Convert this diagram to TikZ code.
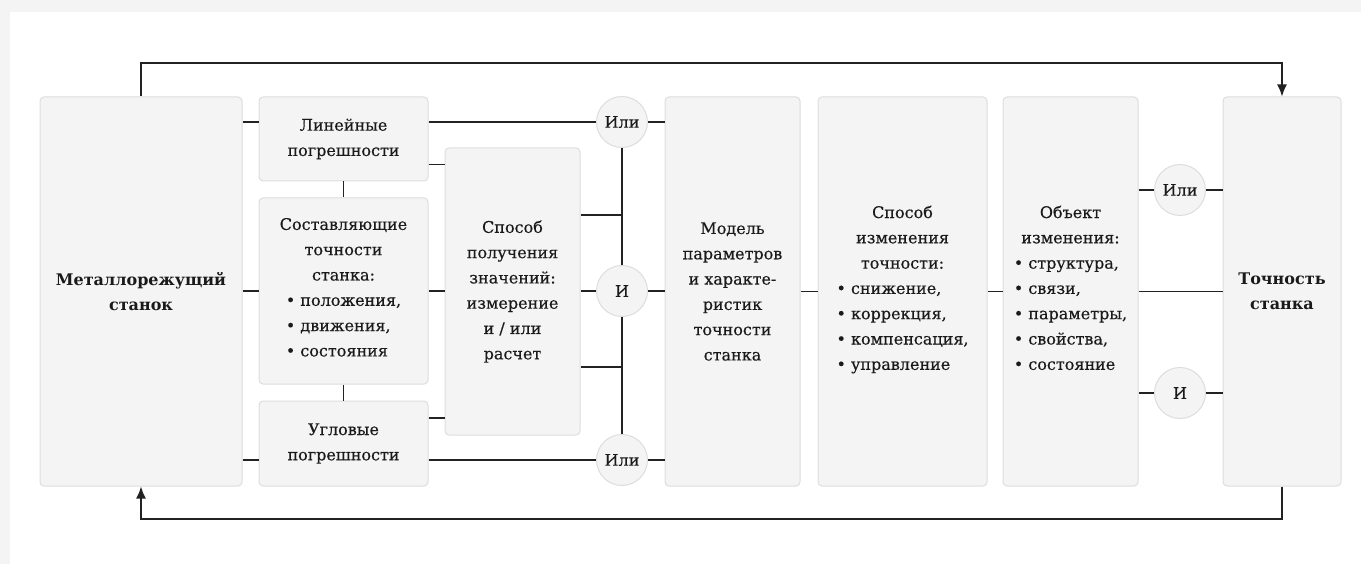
\documentclass[tikz,border=0pt]{standalone}
\usepackage{fontspec}
\setmainfont{DejaVu Serif}[UprightFeatures={FakeBold=0.35}]
\usetikzlibrary{arrows.meta}
\definecolor{pagegray}{HTML}{F4F4F4}
\definecolor{boxfill}{HTML}{F4F4F4}
\definecolor{boxline}{HTML}{DDDDDD}
\definecolor{wire}{HTML}{222222}
\definecolor{ink}{HTML}{1A1A1A}
\newcommand\diagfont{\fontsize{16}{25.3}\selectfont}
\newcommand\bul[1]{\begin{tabular}[t]{@{}l@{}}#1\end{tabular}}
\tikzset{
	blk/.style={draw=boxline, fill=boxfill, line width=1pt, rounded corners=4pt, align=center, inner sep=0pt, text=ink, font=\diagfont},
	gate/.style={circle, draw=boxline, fill=boxfill, line width=1pt, minimum size=51pt, inner sep=0pt, text=ink, font=\diagfont},
	link/.style={draw=wire, line width=1.6pt},
}
\begin{document}
\begin{tikzpicture}[x=1pt, y=-1pt, >={Latex[length=12pt,width=10pt]}]
	% page
		\fill [pagegray] (0,0) rectangle (1361,564);
		\fill [white] (10,12) rectangle (1361,564);
	% rows of the connectors
		\coordinate (rowTop) at (0,63);
		\coordinate (rowA) at (0,122);
		\coordinate (rowB) at (0,164.5);
		\coordinate (busA) at (0,215);
		\coordinate (rowC) at (0,291);
		\coordinate (busB) at (0,367);
		\coordinate (rowD) at (0,418);
		\coordinate (rowE) at (0,460);
		\coordinate (rowBot) at (0,519);
	% blocks
		\node [blk, minimum width=202pt, minimum height=389pt, font=\diagfont\bfseries] (stanok) at (141,291.5) {Металлорежущий\\станок};
		\node [blk, minimum width=169pt, minimum height=84pt] (lin) at (343.5,139) {Линейные\\погрешности};
		\node [blk, minimum width=169pt, minimum height=186pt] (sost) at (343.5,291) {Составляющие\\точности\\станка:\\\bul{• положения,\\• движения,\\• состояния}};
		\node [blk, minimum width=169pt, minimum height=85pt] (ugl) at (343.5,443.5) {Угловые\\погрешности};
		\node [blk, minimum width=135pt, minimum height=287pt] (sposob) at (512.5,291.5) {Способ\\получения\\значений:\\измерение\\и / или\\расчет};
		\node [blk, minimum width=135pt, minimum height=389pt] (model) at (732.5,291.5) {Модель\\параметров\\и характе-\\ристик\\точности\\станка};
		\node [blk, minimum width=169pt, minimum height=389pt] (izm) at (902.5,291.5) {Способ\\изменения\\точности:\\\bul{• снижение,\\• коррекция,\\• компенсация,\\• управление}};
		\node [blk, minimum width=135pt, minimum height=389pt] (obj) at (1070.5,291.5) {Объект\\изменения:\\\bul{• структура,\\• связи,\\• параметры,\\• свойства,\\• состояние}};
		\node [blk, minimum width=118pt, minimum height=389pt, font=\diagfont\bfseries] (toch) at (1282,291.5) {Точность\\станка};
	% gates
		\node [gate] (ili1) at (622,122) {Или};
		\node [gate] (i1) at (622,291) {И};
		\node [gate] (ili2) at (622,460) {Или};
		\node [gate] (ili3) at (1180,190) {Или};
		\node [gate] (i2) at (1180,393) {И};
	% machine to errors
		\draw [link] (stanok.east |- rowA) -- (lin.west |- rowA);
		\draw [link] (stanok.east |- rowC) -- (sost.west |- rowC);
		\draw [link] (stanok.east |- rowE) -- (ugl.west |- rowE);
		\draw [link] (lin.south) -- (sost.north);
		\draw [link] (sost.south) -- (ugl.north);
	% errors to the way of getting values
		\draw [link] (lin.east |- rowB) -- (sposob.west |- rowB);
		\draw [link] (sost.east |- rowC) -- (sposob.west |- rowC);
		\draw [link] (ugl.east |- rowD) -- (sposob.west |- rowD);
	% into the gates
		\draw [link] (lin.east |- rowA) -- (ili1);
		\draw [link] (ugl.east |- rowE) -- (ili2);
		\draw [link] (sposob.east |- busA) -- (ili1 |- busA);
		\draw [link] (sposob.east |- i1) -- (i1);
		\draw [link] (sposob.east |- busB) -- (ili2 |- busB);
		\draw [link] (ili1) -- (i1);
		\draw [link] (i1) -- (ili2);
	% gates to the model
		\draw [link] (ili1) -- (model.west |- ili1);
		\draw [link] (i1) -- (model.west |- i1);
		\draw [link] (ili2) -- (model.west |- ili2);
	% chain to the accuracy
		\draw [link] (model) -- (izm);
		\draw [link] (izm) -- (obj);
		\draw [link] (obj) -- (toch);
		\draw [link] (obj.east |- ili3) -- (ili3) -- (toch.west |- ili3);
		\draw [link] (obj.east |- i2) -- (i2) -- (toch.west |- i2);
	% feedback
		\draw [link, ->] (stanok.north) -- (stanok.north |- rowTop) -| (toch.north);
		\draw [link, ->] (toch.south) -- (toch.south |- rowBot) -| (stanok.south);
\end{tikzpicture}
\end{document}
